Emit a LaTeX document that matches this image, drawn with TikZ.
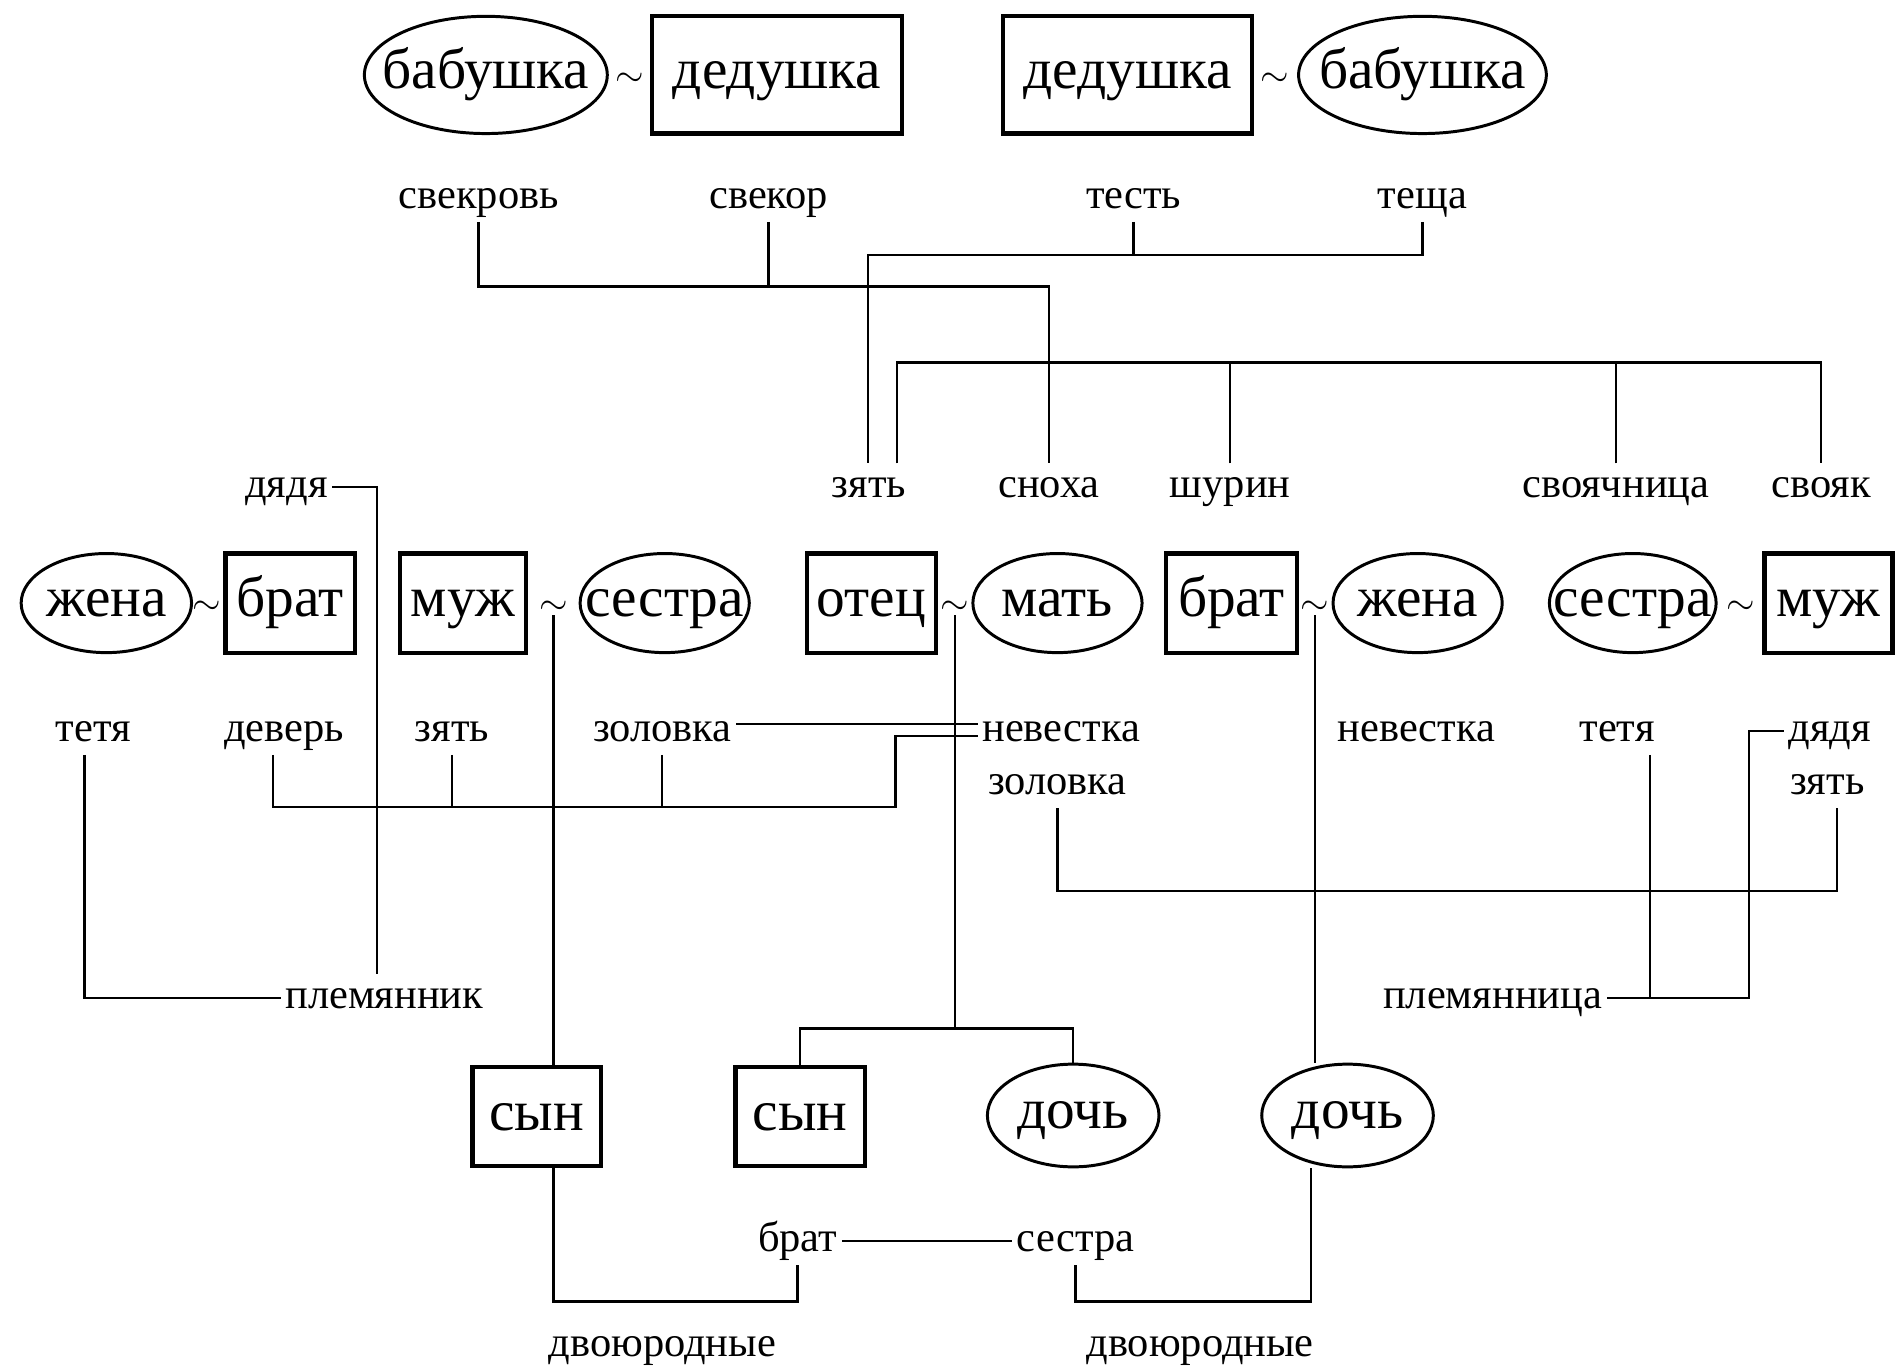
\documentclass[tikz,border=0pt]{standalone}
\usepackage{fontspec}
\setmainfont{Liberation Serif}
\usetikzlibrary{shapes.geometric}

\newcommand{\pname}[1]{\makebox[0pt]{#1}}

\tikzset{
  man/.style={draw,rectangle,line width=2pt,inner sep=0pt,minimum height=16.4mm,
    font=\fontsize{27}{30}\selectfont,text height=18pt,text depth=5.4pt},
  woman/.style={draw,ellipse,line width=1.4pt,inner sep=0pt,minimum height=16.4mm,
    font=\fontsize{27}{30}\selectfont,text height=18pt,text depth=5.4pt},
  rel/.style={font=\fontsize{20}{24}\selectfont,inner sep=2pt,text height=14pt,text depth=4pt},
  wed/.style={font=\fontsize{19}{20}\selectfont,inner sep=0pt},
  link/.style={line width=1.1pt}
}

\begin{document}
\begin{tikzpicture}[x=0.2mm,y=-0.2mm]
 \fill[white] (0,0) rectangle (1568,1134);

 \node[woman,minimum width=40.2mm,minimum height=19.4mm] (gmA) at (402,62) {\pname{бабушка}};
 \node[man,minimum width=41.4mm,minimum height=19.4mm] (gfA) at (643,62) {дедушка};
 \node[man,minimum width=41.2mm,minimum height=19.4mm] (gfB) at (933,62) {дедушка};
 \node[woman,minimum width=41mm,minimum height=19.4mm] (gmB) at (1177,62) {\pname{бабушка}};
 \node[wed] (wA) at (521,66) {$\sim$};
 \node[wed] (wB) at (1055,66) {$\sim$};

 \node[rel] (svekrov) at (396,164) {свекровь};
 \node[rel] (svekor) at (636,164) {свекор};
 \node[rel] (test) at (938,164) {тесть};
 \node[rel] (tescha) at (1177,164) {теща};

 \node[rel] (dyadyaL) at (237,403) {дядя};
 \node[rel] (zyatA) at (719,403) {зять};
 \node[rel] (snokha) at (868,403) {сноха};
 \node[rel] (shurin) at (1018,403) {шурин};
 \node[rel] (svoyach) at (1337,403) {своячница};
 \node[rel] (svoyak) at (1507,403) {свояк};

 \node[woman,minimum width=28.2mm] (wifeA) at (88,499) {\pname{жена}};
 \node[man,minimum width=21.4mm] (broA) at (240,499) {брат};
 \node[man,minimum width=20.8mm] (husA) at (383,499) {муж};
 \node[woman,minimum width=28mm] (sisA) at (550,499) {\pname{сестра}};
 \node[man,minimum width=21.4mm] (father) at (721,499) {отец};
 \node[woman,minimum width=28mm] (mother) at (875,499) {\pname{мать}};
 \node[man,minimum width=21.6mm] (broB) at (1019,499) {брат};
 \node[woman,minimum width=28mm] (wifeB) at (1173,499) {\pname{жена}};
 \node[woman,minimum width=27.6mm] (sisB) at (1351,499) {\pname{сестра}};
 \node[man,minimum width=21.2mm] (husB) at (1513,499) {муж};
 \node[wed] (tA) at (171,503) {$\sim$};
 \node[wed] (tB) at (458,503) {$\sim$};
 \node[wed] (tC) at (790,503) {$\sim$};
 \node[wed] (tD) at (1088,503) {$\sim$};
 \node[wed] (tE) at (1440,503) {$\sim$};

 \node[rel] (tetyaL) at (77,605) {тетя};
 \node[rel] (dever) at (235,605) {деверь};
 \node[rel] (zyatB) at (374,605) {зять};
 \node[rel] (zolovkaA) at (548,605) {золовка};
 \node[rel] (nevestkaA) at (878,605) {невестка};
 \node[rel] (nevestkaB) at (1172,605) {невестка};
 \node[rel] (tetyaR) at (1338,605) {тетя};
 \node[rel] (dyadyaR) at (1514,605) {дядя};
 \node[rel] (zolovkaB) at (875,649) {золовка};
 \node[rel] (zyatC) at (1512,649) {зять};

 \node[rel] (plemyannik) at (318,826) {племянник};
 \node[rel] (plemyannitsa) at (1235,826) {племянница};

 \node[man,minimum width=21.2mm] (sonA) at (444,924) {сын};
 \node[man,minimum width=21.4mm] (sonB) at (662,924) {сын};
 \node[woman,minimum width=28.4mm,minimum height=17mm] (dauA) at (888,923) {\pname{дочь}};
 \node[woman,minimum width=28.4mm,minimum height=17mm] (dauB) at (1115,923) {\pname{дочь}};

 \node[rel] (bratC) at (660,1027) {брат};
 \node[rel] (sestraC) at (890,1027) {сестра};
 \node[rel] (dvoyurA) at (548,1114) {двоюродные};
 \node[rel] (dvoyurB) at (993,1114) {двоюродные};

 \coordinate (j1) at (868,237);
 \coordinate (j2) at (718,211);
 \coordinate (j3) at (742,300);
 \coordinate (j4) at (741,668);
 \coordinate (j5) at (1520,737);
 \coordinate (j6) at (1365,826);
 \coordinate (j7) at (1447,826);
 \coordinate (j8) at (790,851);
 \coordinate (j9) at (458,1077);
 \coordinate (j10) at (1085,1077);

 \draw[link] (svekrov.south) |- (j1) -- (snokha.north);
 \draw[link] (svekor.south) -- (svekor.south |- j1);
 \draw[link] (tescha.south) |- (j2) -- (j2 |- zyatA.north);
 \draw[link] (test.south) -- (test.south |- j2);
 \draw[link] (j3 |- zyatA.north) -- (j3) -| (svoyak.north);
 \draw[link] (shurin.north) -- (shurin.north |- j3);
 \draw[link] (svoyach.north) -- (svoyach.north |- j3);

 \draw[link] (dyadyaL.east) -| ([xshift=-1.2mm]plemyannik.north);
 \draw[link] ([xshift=-1.4mm]tetyaL.south) |- (plemyannik.west);
 \draw[link] ([xshift=-1.8mm]dever.south) |- (j4) |- ([yshift=-0.8mm]nevestkaA.west);
 \draw[link] (zyatB.south) -- (zyatB.south |- j4);
 \draw[link] (zolovkaA.south) -- (zolovkaA.south |- j4);
 \draw[link] ([yshift=1.2mm]zolovkaA.east) -- ([yshift=1.2mm]nevestkaA.west);

 \draw[link] (zolovkaB.south) |- (j5) -- (j5 |- zyatC.south);
 \draw[link] (j6 |- tetyaR.south) -- (j6);
 \draw[link] (dyadyaR.west) -| (j7) -- (j7 -| plemyannitsa.east);

 \draw[link] (tB.south) -- (tB.south |- sonA.north);
 \draw[link] (tC.south) -- (j8);
 \draw[link] (sonB.north) |- (j8) -| (dauA.north);
 \draw[link] (tD.south) -- (tD.south |- dauB.north);

 \draw[link] (j9 |- sonA.south) -- (j9) -| (bratC.south);
 \draw[link] (j10 |- dauB.south) -- (j10) -| (sestraC.south);
 \draw[link] (bratC.east) -- (sestraC.west);
\end{tikzpicture}
\end{document}
